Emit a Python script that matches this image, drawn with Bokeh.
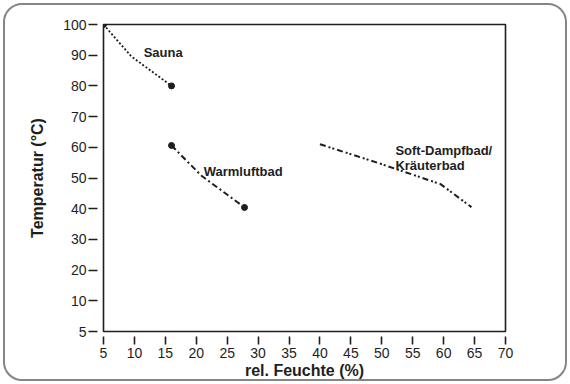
from bokeh.plotting import figure
from bokeh.models import FixedTicker, ColumnDataSource, Range1d
from bokeh.core.properties import value
from bokeh.embed import file_html
from bokeh.resources import INLINE

# ---- data ----
sauna_x = [5, 9.5, 16]
sauna_y = [100, 89.6, 80]
warm_x = [16, 20.8, 27.8]
warm_y = [60.6, 50.8, 40.4]
soft_x = [40, 50, 59.5, 64.5]
soft_y = [61, 54.5, 48, 40.5]
dot_x = [5, 16, 16, 27.8]
dot_y = [100, 80, 60.6, 40.4]

label_text = ["Sauna", "Warmluftbad", "Soft-Dampfbad/", "Kräuterbad"]
label_x = [11.5, 21.2, 52.2, 52.2]
label_y = [90.9, 52.1, 59.0, 54.1]

x_ticks = [5, 10, 15, 20, 25, 30, 35, 40, 45, 50, 55, 60, 65, 70]
y_ticks = [0, 10, 20, 30, 40, 50, 60, 70, 80, 90, 100]
y_tick_labels = {0: "5"}

FONT = "Liberation Sans"
INK = "#1e1e1e"

p = figure(width=570, height=384, output_backend="svg", toolbar_location=None,
           x_range=Range1d(5, 70), y_range=Range1d(0, 100),
           min_border_left=103, min_border_right=65, min_border_top=24, min_border_bottom=53)
# rounded card border around the whole chart (drawn by the page element behind a transparent border area)
p.styles = {"outline": "2px solid #858585", "outline-offset": "-5px",
            "border-radius": "22px", "background-color": "white"}

p.xgrid.visible = False
p.ygrid.visible = False
p.outline_line_color = INK
p.outline_line_width = 1.6
p.background_fill_color = "white"
p.border_fill_color = None

# axes
for ax in (p.xaxis[0], p.yaxis[0]):
    ax.axis_line_color = None
    ax.minor_tick_line_color = None
    ax.major_tick_line_color = INK
    ax.major_tick_line_width = 1.6
    ax.major_label_text_font = FONT
    ax.major_label_text_font_size = "14px"
    ax.major_label_text_color = INK
    ax.axis_label_text_font = FONT
    ax.axis_label_text_font_size = "16px"
    ax.axis_label_text_font_style = "bold"
    ax.axis_label_text_color = INK

p.xaxis.ticker = FixedTicker(ticks=x_ticks)
p.xaxis.major_tick_in = -5
p.xaxis.major_tick_out = 13
p.xaxis.major_label_standoff = 3
p.xaxis.axis_label = "rel. Feuchte (%)"
p.xaxis.axis_label_standoff = 1

p.yaxis.ticker = FixedTicker(ticks=y_ticks)
p.yaxis.major_label_overrides = y_tick_labels
p.yaxis.major_tick_in = -6
p.yaxis.major_tick_out = 15
p.yaxis.major_label_standoff = 2
p.yaxis.axis_label = "Temperatur (°C)"
p.yaxis.axis_label_standoff = 14

# series
p.line(sauna_x, sauna_y, line_color=INK, line_width=1.8, line_dash="2 2")
p.line(warm_x, warm_y, line_color=INK, line_width=2, line_dash="6 3 2 3")
p.line(soft_x, soft_y, line_color=INK, line_width=2, line_dash="6 3 2 2 2 3")
p.scatter(dot_x, dot_y, size=6, color=INK)

src = ColumnDataSource(dict(x=label_x, y=label_y, t=label_text))
p.text(x="x", y="y", text="t", source=src, text_font=value(FONT),
       text_font_style="bold", text_font_size="13px", text_color=INK,
       text_align="left", text_baseline="middle")

open("out.html", "w").write(file_html(p, INLINE))
